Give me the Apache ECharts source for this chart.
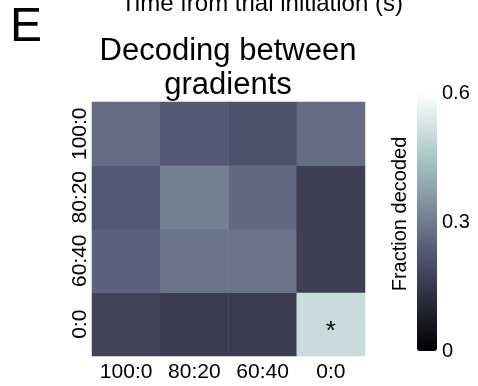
<!DOCTYPE html>
<html>
<head>
<meta charset="utf-8">
<script src="https://cdn.jsdelivr.net/npm/echarts@6/dist/echarts.min.js"></script>
<style>
  html, body { margin: 0; padding: 0; background: #fff; }
  #main { width: 478px; height: 386px; }
</style>
</head>
<body>
<div id="main"></div>
<script>
// 横轴 / 纵轴 类别
var xCategories = ['100:0', '80:20', '60:40', '0:0'];
var yCategories = ['0:0', '60:40', '80:20', '100:0'];   // 从下到上

// 每一行的解码比例 (按 xCategories 顺序)
var row100_0 = [0.27, 0.23, 0.21, 0.27];
var row80_20 = [0.23, 0.31, 0.265, 0.165];
var row60_40 = [0.25, 0.285, 0.285, 0.165];
var row0_0   = [0.175, 0.155, 0.155, 0.505];

// 显著格子
var starCell = ['0:0', '0:0'];

// colorbar 刻度
var barTicks = [0, 0.3, 0.6];

// matplotlib "bone" 色带, 0..1 每隔 0.1 取一个
var boneColors = ['#000000', '#16161f', '#2d2d3e', '#43435d', '#595c79', '#707b8f',
                  '#869aa6', '#9cb8bc', '#b9d2d2', '#dce9e9', '#ffffff'];

var FONT = 'Liberation Sans';

var rows = {'0:0': row0_0, '60:40': row60_40, '80:20': row80_20, '100:0': row100_0};
var heatData = [];
yCategories.forEach(function (yc, yi) {
    rows[yc].forEach(function (v, xi) {
        var item = {value: [xi, yi, v]};
        if (xCategories[xi] === starCell[0] && yc === starCell[1]) {
            item.label = {
                show: true, formatter: '*', color: '#000',
                fontSize: 26, fontFamily: FONT, offset: [0, 8]
            };
        }
        heatData.push(item);
    });
});

var chart = echarts.init(document.getElementById('main'));
chart.setOption({
    animation: false,
    textStyle: {fontFamily: FONT},
    grid: [
        {left: 92, top: 102, width: 273, height: 254},
        // colorbar 刻度用
        {left: 417, top: 93, width: 20, height: 258}
    ],
    xAxis: [
        {
            type: 'category', gridIndex: 0, data: xCategories,
            axisLine: {show: false}, axisTick: {show: false}, splitLine: {show: false},
            axisLabel: {color: '#000', fontSize: 21, margin: 6, interval: 0, fontFamily: FONT}
        },
        {type: 'value', gridIndex: 1, show: false}
    ],
    yAxis: [
        {
            type: 'category', gridIndex: 0, data: yCategories,
            axisLine: {show: false}, axisTick: {show: false}, splitLine: {show: false},
            axisLabel: {color: '#000', fontSize: 21, margin: 1, rotate: 90, interval: 0, fontFamily: FONT}
        },
        {
            type: 'value', gridIndex: 1, position: 'right', min: 0, max: 0.6, interval: 0.3,
            axisLine: {show: false}, axisTick: {show: false}, splitLine: {show: false},
            axisLabel: {color: '#000', fontSize: 20, margin: 5, fontFamily: FONT,
                        formatter: function (v) { return barTicks.indexOf(v) >= 0 ? String(v) : ''; }}
        }
    ],
    visualMap: {
        type: 'continuous', min: 0, max: 0.6, seriesIndex: 0,
        left: 417, top: 93, itemWidth: 20, itemHeight: 258, padding: 0,
        calculable: false, hoverLink: false,
        inRange: {color: boneColors}
    },
    graphic: [
        {type: 'text', x: 262, y: 16, style: {text: 'Time from trial initiation (s)', fill: '#000',
            font: '24px "' + FONT + '"', textAlign: 'center', textVerticalAlign: 'bottom'}},
        {type: 'text', x: 10, y: 28, style: {text: 'E', fill: '#000',
            font: '48px "' + FONT + '"', textAlign: 'left', textVerticalAlign: 'middle'}},
        {type: 'text', x: 228, y: 34, style: {text: 'Decoding between\ngradients', fill: '#000',
            font: '31px "' + FONT + '"', lineHeight: 34, textAlign: 'center', textVerticalAlign: 'top'}},
        {type: 'text', x: 400, y: 214, rotation: Math.PI / 2, style: {text: 'Fraction decoded', fill: '#000',
            font: '20px "' + FONT + '"', textAlign: 'center', textVerticalAlign: 'middle'}}
    ],
    series: [{
        type: 'heatmap', xAxisIndex: 0, yAxisIndex: 0,
        data: heatData,
        emphasis: {disabled: true}
    }]
});
</script>
</body>
</html>
